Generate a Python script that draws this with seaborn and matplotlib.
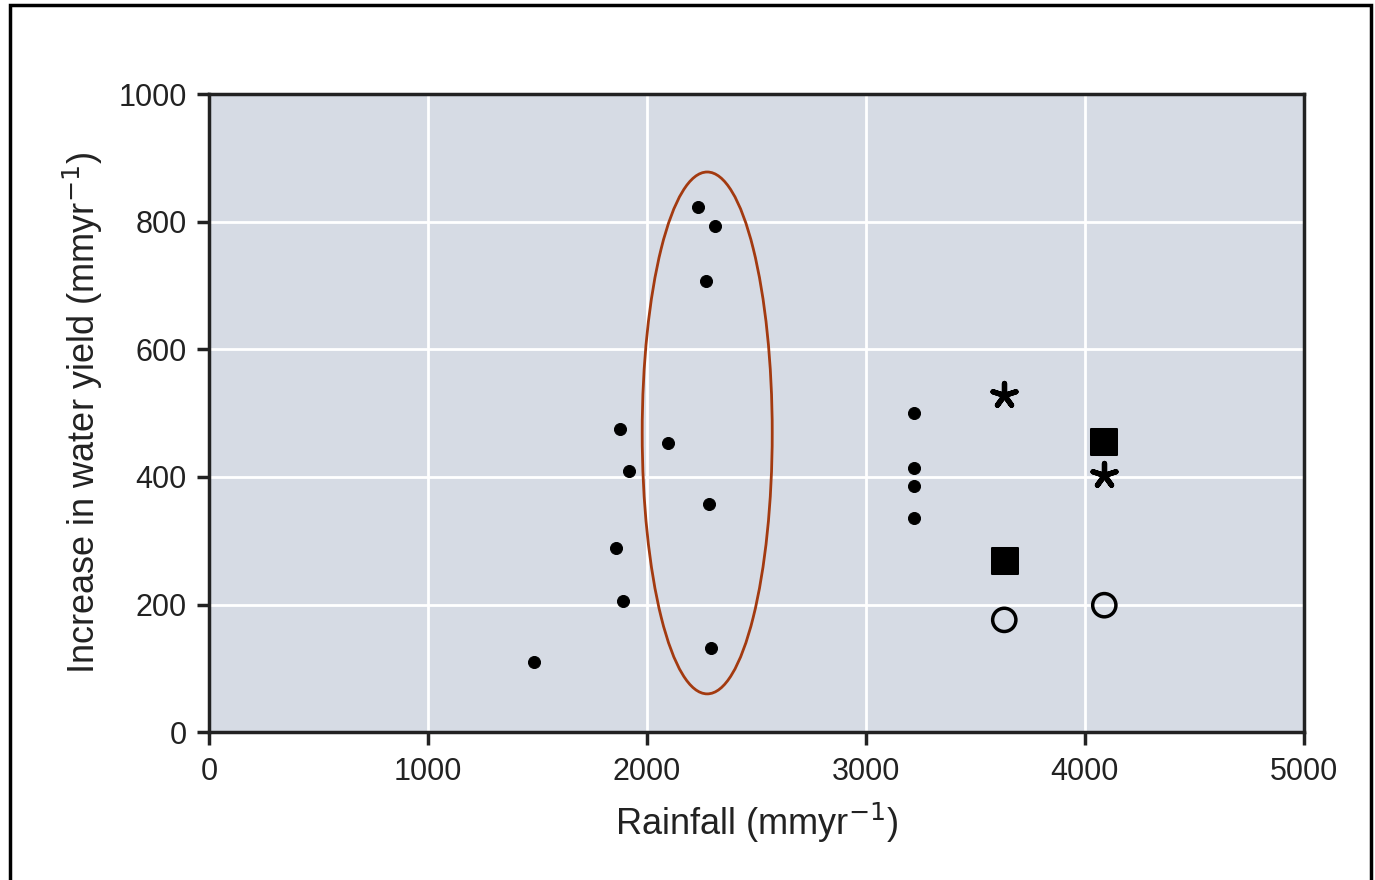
import numpy as np
import pandas as pd
import seaborn as sns
import matplotlib.pyplot as plt
from matplotlib.patches import Ellipse, Rectangle

# data
dot_x = [1485, 2235, 2313, 2271, 1878, 2098, 1920, 2285, 1860, 1892, 2294,
         3222, 3222, 3222, 3222]
dot_y = [110, 823, 793, 707, 475, 453, 409, 357, 288, 205, 132,
         500, 414, 386, 335]
star_x = [3630, 4090]
star_y = [528, 403]
square_x = [3638, 4090]
square_y = [268, 455]
ring_x = [3633, 4090]
ring_y = [176, 199]

xticks = [0, 1000, 2000, 3000, 4000, 5000]
yticks = [0, 200, 400, 600, 800, 1000]

sns.set_theme(style='darkgrid', rc={'axes.facecolor': '#d6dbe4', 'grid.color': 'white',
                                    'grid.linewidth': 2})
plt.rcParams['font.family'] = ['Liberation Sans', 'DejaVu Sans']

fig = plt.figure(figsize=(13.75, 8.8), dpi=100)
ax = fig.add_axes([0.152, 0.168, 0.796, 0.725])

sns.scatterplot(x=dot_x, y=dot_y, ax=ax, color='black', s=75, marker='o', edgecolor='black')
sns.scatterplot(x=star_x, y=star_y, ax=ax, color='black', s=300, marker=(5, 2, 0),
                linewidth=3.8, edgecolor='black')
sns.scatterplot(x=square_x, y=square_y, ax=ax, color='black', s=330, marker='s', edgecolor='black')
sns.scatterplot(x=ring_x, y=ring_y, ax=ax, s=280, marker='o', facecolor='none',
                edgecolor='black', linewidth=2.5)

# highlighted group
ax.add_patch(Ellipse((2276, 469), 594, 818, fill=False, edgecolor='#a33a10', linewidth=2))

ax.set_xlim(0, 5000)
ax.set_ylim(0, 1000)
ax.set_xticks(xticks)
ax.set_yticks(yticks)
ax.tick_params(axis='both', labelsize=22, length=9, width=2.5, color='#222222',
               labelcolor='#222222', direction='out', bottom=True, left=True)
ax.tick_params(axis='x', pad=9)
ax.tick_params(axis='y', pad=7)
for side in ['top', 'right', 'bottom', 'left']:
    ax.spines[side].set_visible(True)
    ax.spines[side].set_color('#222222')
    ax.spines[side].set_linewidth(2.5)

ax.set_xlabel('Rainfall (mmyr$^{-1}$)', fontsize=26, color='#222222', labelpad=10)
ax.set_ylabel('Increase in water yield (mmyr$^{-1}$)', fontsize=26, color='#222222', labelpad=10)

# outer frame of the scanned figure
fig.patches.append(Rectangle((0.007, -0.01), 0.99, 1.004, transform=fig.transFigure,
                             fill=False, edgecolor='black', linewidth=2.5))

fig.savefig('out.png', dpi=100)
